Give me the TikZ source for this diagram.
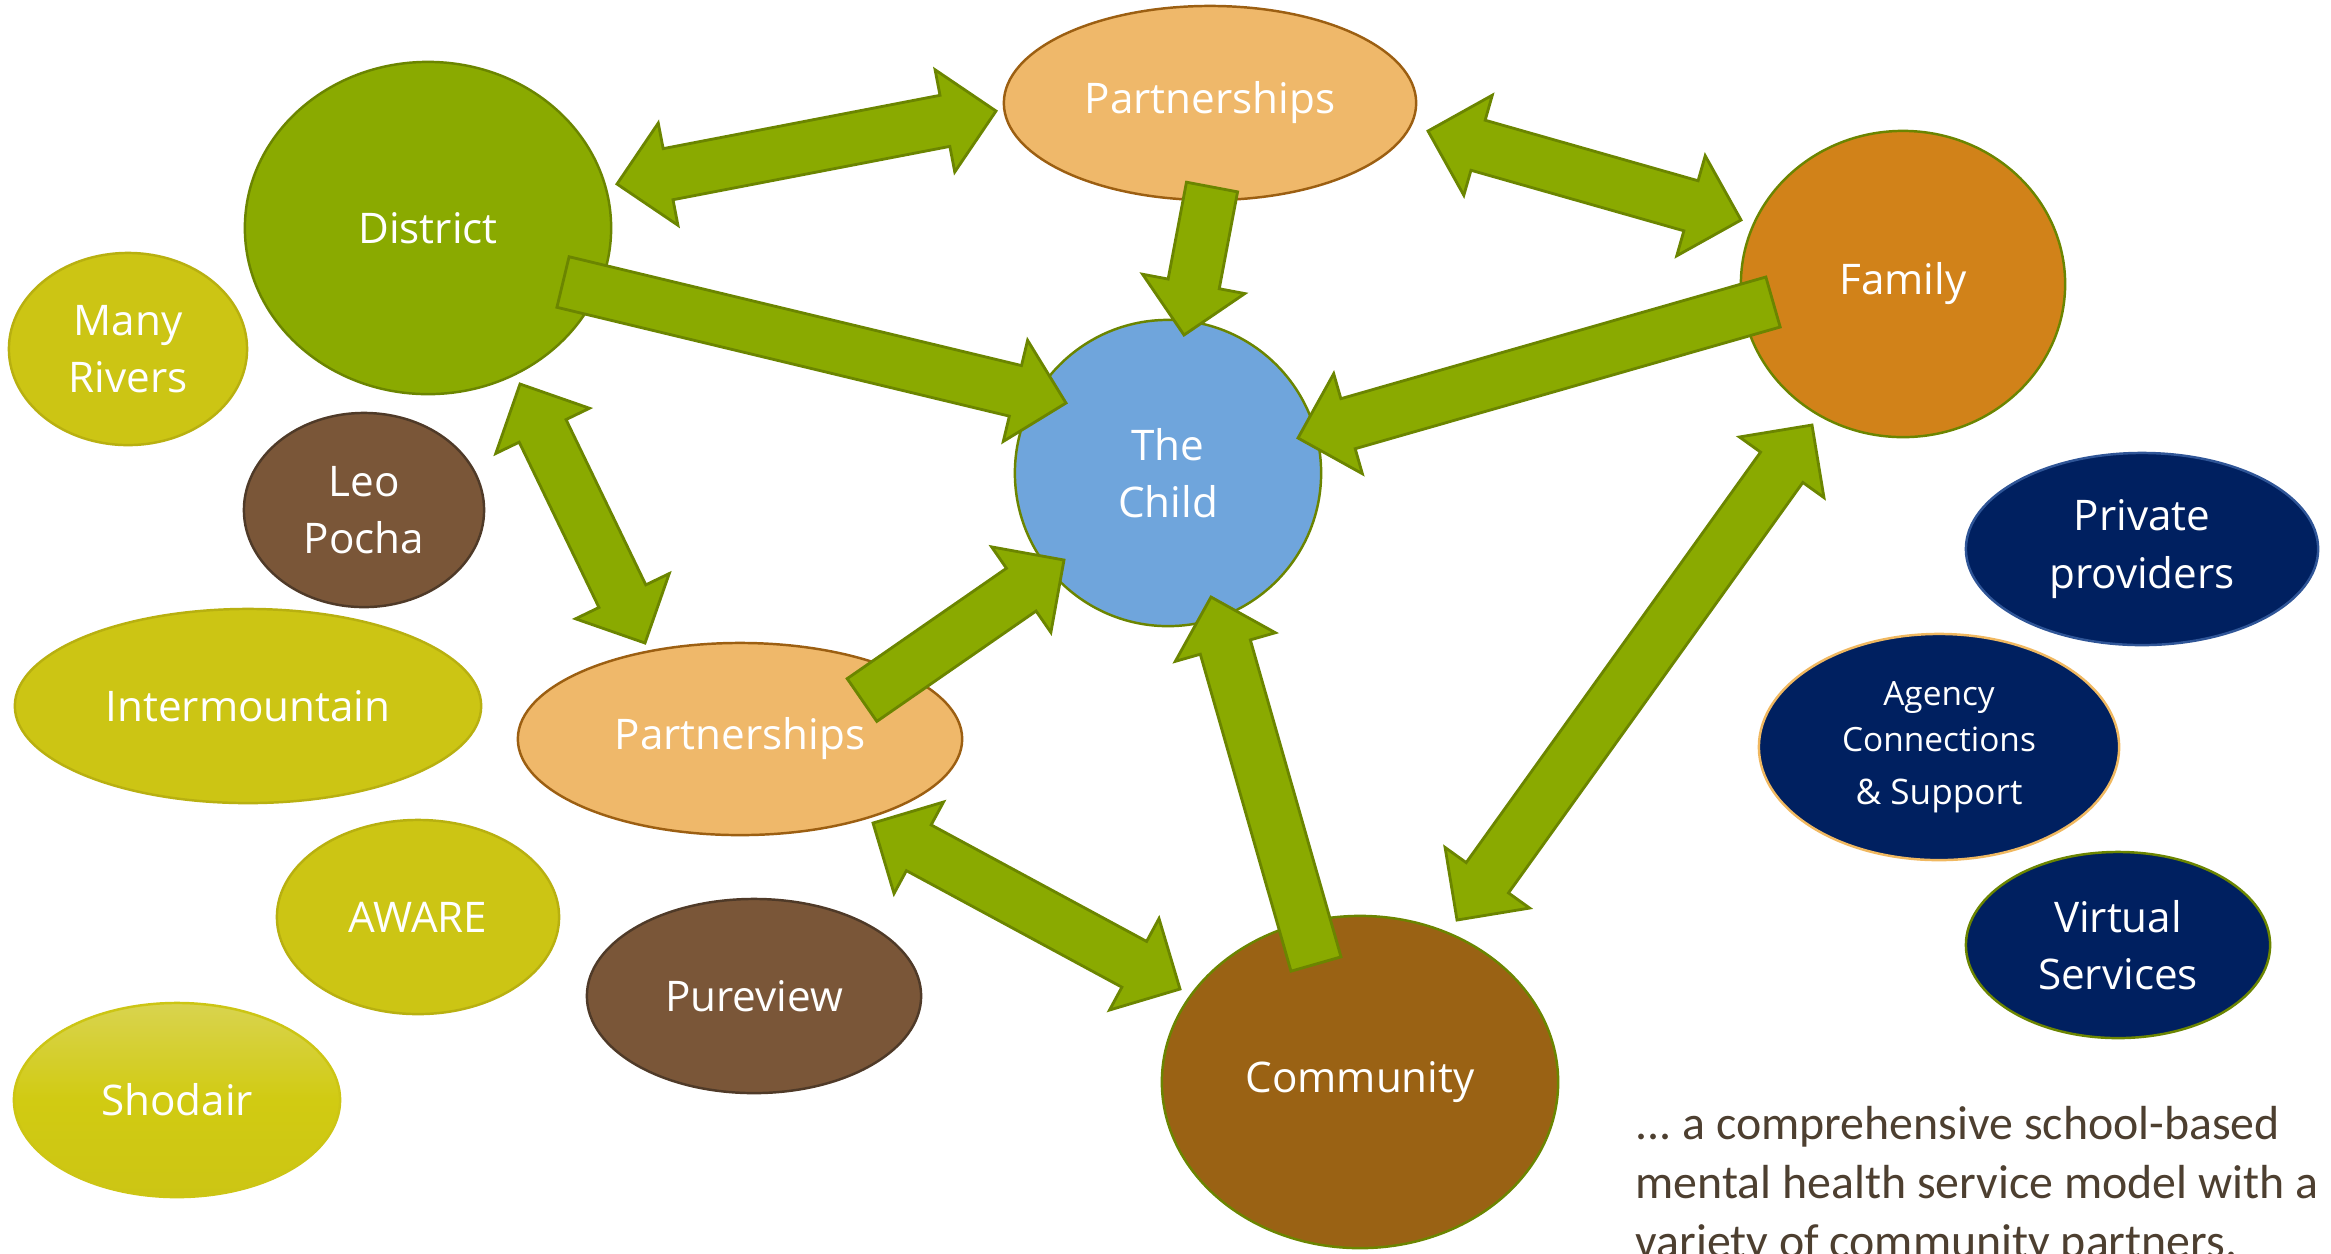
\documentclass[tikz,border=0pt]{standalone}
\usepackage{fontspec}
\setmainfont{Open Sans}
\newfontfamily\capfont{Carlito}
\usetikzlibrary{shapes.geometric,calc}
\definecolor{Leaf}{HTML}{8AAA00}
\definecolor{LeafLine}{HTML}{6B8500}
\definecolor{Peach}{HTML}{EFB86A}
\definecolor{PeachLine}{HTML}{9C5F12}
\definecolor{Mustard}{HTML}{CCC514}
\definecolor{MustardLine}{HTML}{B8B010}
\definecolor{Bark}{HTML}{7A5638}
\definecolor{BarkLine}{HTML}{4F3A28}
\definecolor{Sky}{HTML}{6FA5DC}
\definecolor{Orange}{HTML}{D18219}
\definecolor{Rust}{HTML}{9A6214}
\definecolor{Navy}{HTML}{002060}
\definecolor{NavyLine}{HTML}{2F5597}
\definecolor{Tan}{HTML}{F0B860}
\definecolor{Caption}{HTML}{4D3F30}

% block arrow sizes
\newcommand{\arrshaft}{0.26cm}
\newcommand{\arrwing}{0.52cm}
\newcommand{\arrhead}{0.52cm}

% single block arrow, tail #1, tip #2
\newcommand{\onearrow}[2]{%
  \coordinate (hb) at ($(#2)!\arrhead!(#1)$);
  \draw[bigarrow] ($(#1)!\arrshaft!90:(#2)$) -- ($(hb)!\arrshaft!90:(#2)$)
    -- ($(hb)!\arrwing!90:(#2)$) -- (#2) -- ($(hb)!\arrwing!-90:(#2)$)
    -- ($(hb)!\arrshaft!-90:(#2)$) -- ($(#1)!\arrshaft!-90:(#2)$) -- cycle;}

% double block arrow, tips #1 and #2
\newcommand{\twoarrow}[2]{%
  \coordinate (ha) at ($(#1)!\arrhead!(#2)$);
  \coordinate (hb) at ($(#2)!\arrhead!(#1)$);
  \draw[bigarrow] (#1) -- ($(ha)!\arrwing!90:(#2)$) -- ($(ha)!\arrshaft!90:(#2)$)
    -- ($(hb)!\arrshaft!90:(#2)$) -- ($(hb)!\arrwing!90:(#2)$) -- (#2)
    -- ($(hb)!\arrwing!-90:(#2)$) -- ($(hb)!\arrshaft!-90:(#2)$)
    -- ($(ha)!\arrshaft!-90:(#2)$) -- ($(ha)!\arrwing!-90:(#2)$) -- cycle;}

\begin{document}
\begin{tikzpicture}[x=0.01cm,y=-0.01cm,
  bubble/.style={ellipse,inner sep=0pt,align=center,text=white,line width=0.7pt,
    font=\fontsize{12}{16.4}\selectfont},
  rxy/.style 2 args={minimum width=#1*0.02cm,minimum height=#2*0.02cm},
  partner/.style={bubble,fill=Peach,draw=PeachLine},
  local/.style={bubble,fill=Mustard,draw=MustardLine},
  brown/.style={bubble,fill=Bark,draw=BarkLine},
  navy/.style={bubble,fill=Navy},
  bigarrow/.style={fill=Leaf,draw=LeafLine,line width=0.8pt,line join=miter},
  capline/.style={anchor=base west,inner sep=0pt,text=Caption,
    font=\capfont\fontsize{13.6}{16.8}\selectfont}
]
\useasboundingbox (0,0) rectangle (2331,1253);
\clip (0,0) rectangle (2331,1253);

% core circle
\node[partner,rxy={206}{97}] (ptop) at (1210,103) {Partnerships};
\node[bubble,rxy={183}{166},fill=Leaf,draw=LeafLine] (dist) at (428,228) {District};
\node[bubble,rxy={153}{153},fill=Sky,draw=LeafLine] (child) at (1168,473) {The\\Child};
\node[bubble,rxy={162}{153},fill=Orange,draw=LeafLine] (family) at (1903,284) {Family};
\node[bubble,rxy={198}{166},fill=Rust,draw=LeafLine] (comm) at (1360,1082) {Community};
\node[partner,rxy={222}{96}] (plow) at (740,739) {Partnerships};

% local partners
\node[local,rxy={119}{96}] (many) at (128,349) {Many\\Rivers};
\node[brown,rxy={120}{97}] (leo) at (364,510) {Leo\\Pocha};
\node[local,rxy={233}{97}] (inter) at (248,706) {Intermountain};
\node[local,rxy={141}{97}] (aware) at (418,917) {AWARE};
\node[bubble,rxy={163}{97},top color=Mustard!75!white,bottom color=Mustard,
  middle color=Mustard!90!yellow,draw=Mustard] (shod) at (177,1100) {Shodair};
\node[brown,rxy={167}{97}] (pure) at (754,996) {Pureview};

% outside services
\node[navy,rxy={176}{96},draw=NavyLine] (priv) at (2142,549) {Private\\providers};
\node[navy,rxy={180}{113},draw=Tan,font=\fontsize{9.5}{13}\selectfont] (agency) at (1939,747)
  {Agency\\Connections\\[2pt]{\fontsize{10}{13}\selectfont\& Support}};
\node[navy,rxy={152}{93},draw=LeafLine] (virt) at (2118,945) {Virtual\\Services};

% arrow ends
\coordinate (dist-ptop) at ([shift={(189,-44)}]dist.center);
\coordinate (ptop-dist) at ([shift={(-214,8)}]ptop.center);
\coordinate (ptop-fam) at ([shift={(218,28)}]ptop.center);
\coordinate (fam-ptop) at ([shift={(-162,-64)}]family.center);
\coordinate (fam-child) at ([shift={(-130,18)}]family.center);
\coordinate (child-fam) at ([shift={(130,-35)}]child.center);
\coordinate (comm-fam) at ([shift={(97,-162)}]comm.center);
\coordinate (fam-comm) at ([shift={(-91,141)}]family.center);
\coordinate (plow-comm) at ([shift={(133,84)}]plow.center);
\coordinate (comm-plow) at ([shift={(-180,-93)}]comm.center);
\coordinate (ptop-child) at ([shift={(2,84)}]ptop.center);
\coordinate (child-ptop) at ([shift={(16,-138)}]child.center);
\coordinate (comm-child) at ([shift={(-44,-118)}]comm.center);
\coordinate (child-comm) at ([shift={(43,124)}]child.center);
\coordinate (dist-child) at ([shift={(135,54)}]dist.center);
\coordinate (child-dist) at ([shift={(-102,-70)}]child.center);
\coordinate (dist-plow) at ([shift={(92,156)}]dist.center);
\coordinate (plow-dist) at ([shift={(-95,-96)}]plow.center);
\coordinate (plow-child) at ([shift={(122,-39)}]plow.center);
\coordinate (child-plow) at ([shift={(-104,87)}]child.center);

% arrows
\twoarrow{dist-ptop}{ptop-dist}
\twoarrow{ptop-fam}{fam-ptop}
\onearrow{fam-child}{child-fam}
\twoarrow{comm-fam}{fam-comm}
\twoarrow{plow-comm}{comm-plow}
\onearrow{ptop-child}{child-ptop}
\onearrow{comm-child}{child-comm}
\onearrow{dist-child}{child-dist}
\twoarrow{dist-plow}{plow-dist}
\onearrow{plow-child}{child-plow}

% caption
\node[capline] (cap1) at (1635,1139) {...\ a comprehensive school-based};
\node[capline] (cap2) at (1635,1198) {mental health service model with a};
\node[capline] (cap3) at (1635,1257) {variety of community partners.};
\end{tikzpicture}
\end{document}
